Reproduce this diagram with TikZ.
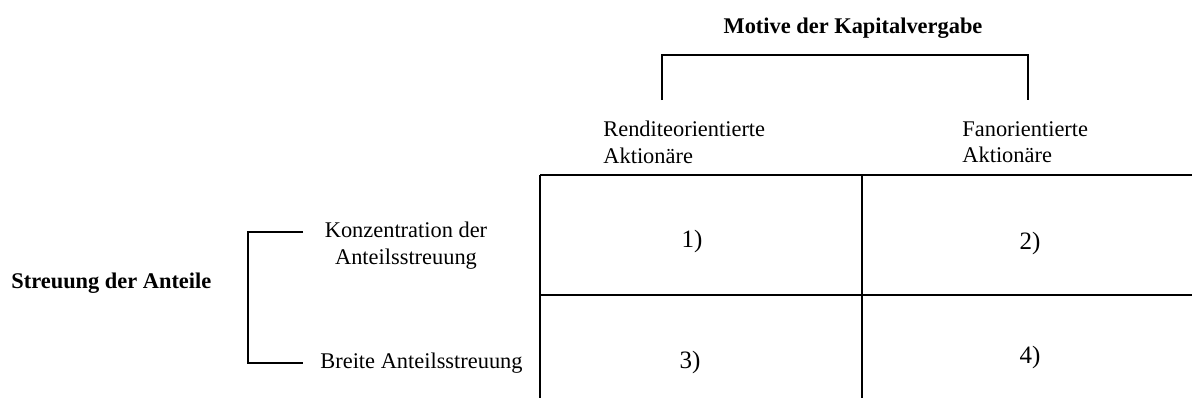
\documentclass[tikz,border=0pt]{standalone}
\usepackage{fontspec}
\setmainfont{Liberation Serif}
\begin{document}
\begin{tikzpicture}[x=0.5pt,y=-0.5pt,
  lbl/.style={inner sep=0pt,font=\fontsize{11.2}{13.2}\selectfont},
  hdr/.style={lbl,font=\fontsize{11.2}{13.2}\selectfont\bfseries},
  cell/.style={inner sep=0pt,font=\fontsize{12.5}{14}\selectfont},
  rule/.style={line width=1pt}]
\useasboundingbox (0,0) rectangle (1192,398);

% headings
\node[hdr,anchor=base] (motive) at (853,33) {Motive der Kapitalvergabe};
\node[hdr,anchor=base west] (streuung) at (11,288) {Streuung der Anteile};

% column labels
\node[lbl,anchor=north west,align=left] (rendite) at (603,121) {Renditeorientierte\\Aktionäre};
\node[lbl,anchor=north west,align=left] (fan) at (962,121) {Fanorientierte\\Aktionäre};

% row labels
\node[lbl,anchor=north,align=center] (konz) at (406,222) {Konzentration der\\Anteilsstreuung};
\node[lbl,anchor=west] (breit) at (320,363) {Breite Anteilsstreuung};

% bracket ends
\coordinate (bl) at (662,100);
\coordinate (br) at (1028,100);
\coordinate (rt) at (303,232);
\coordinate (rb) at (303,363);

\draw[rule] (bl) -- (bl |- 0,55) -- (br |- 0,55) -- (br);
\draw[rule] (rt) -- (248,232) -- (248,363) -- (rb);

% matrix grid
\coordinate (g0) at (540,175);
\coordinate (gm) at (862,175);
\draw[rule] (g0) -- (1192,175);
\draw[rule] (540,295) -- (1192,295);
\draw[rule] (g0) -- (540,398);
\draw[rule] (gm) -- (862,398);

% cells
\node[cell] (c1) at (692,241) {1)};
\node[cell] (c2) at (1030,243) {2)};
\node[cell] (c3) at (690,362) {3)};
\node[cell] (c4) at (1030,357) {4)};
\end{tikzpicture}
\end{document}
